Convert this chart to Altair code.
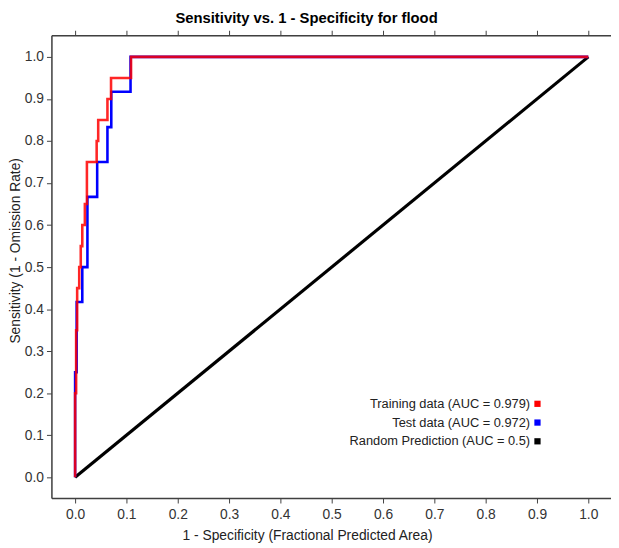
import altair as alt
import pandas as pd

# ---- data ----
series_names = [
    "Training data (AUC = 0.979)",
    "Test data (AUC = 0.972)",
    "Random Prediction (AUC = 0.5)",
]
series_colors = ["#ff0000", "#0000ff", "#000000"]

train_x = [0.0, 0.0, 0.002, 0.002, 0.004, 0.004, 0.008, 0.008, 0.011, 0.011,
           0.014, 0.014, 0.019, 0.019, 0.023, 0.023, 0.042, 0.042, 0.045, 0.045,
           0.063, 0.063, 0.070, 0.070, 0.109, 0.109, 1.0]
train_y = [0.0, 0.2, 0.2, 0.35, 0.35, 0.45, 0.45, 0.5, 0.5, 0.55,
           0.55, 0.6, 0.6, 0.65, 0.65, 0.75, 0.75, 0.8, 0.8, 0.85,
           0.85, 0.9, 0.9, 0.95, 0.95, 1.0, 1.0]

test_x = [0.0, 0.0, 0.003, 0.003, 0.014, 0.014, 0.024, 0.024, 0.043, 0.043,
          0.063, 0.063, 0.0705, 0.0705, 0.108, 0.108, 1.0]
test_y = [0.0, 0.25, 0.25, 0.417, 0.417, 0.5, 0.5, 0.667, 0.667, 0.75,
          0.75, 0.833, 0.833, 0.917, 0.917, 1.0, 1.0]

random_x = [0.0, 1.0]
random_y = [0.0, 1.0]

tick_values = [0.0, 0.1, 0.2, 0.3, 0.4, 0.5, 0.6, 0.7, 0.8, 0.9, 1.0]

title_text = "Sensitivity vs. 1 - Specificity for flood"
x_title = "1 - Specificity  (Fractional Predicted Area)"
y_title = "Sensitivity (1 - Omission Rate)"


def frame(xs, ys, name):
    return pd.DataFrame({"x": xs, "y": ys, "series": name, "i": range(len(xs))})


df_train = frame(train_x, train_y, series_names[0])
df_test = frame(test_x, test_y, series_names[1])
df_rand = frame(random_x, random_y, series_names[2])

FONT = "Liberation Sans"

x_scale = alt.Scale(domain=[-0.04615, 1.04423], nice=False, zero=False)
y_scale = alt.Scale(domain=[-0.0493, 1.0516], nice=False, zero=False)

color = alt.Color(
    "series:N",
    scale=alt.Scale(domain=series_names, range=series_colors),
    legend=alt.Legend(
        title=None,
        orient="none",
        legendX=486,
        legendY=367,
        direction="vertical",
        symbolType="square",
        symbolSize=40,
        symbolStrokeWidth=0,
        symbolOpacity=1,
        symbolFillColor={"expr": "scale('color', datum.value)"},
        labelAlign="right",
        labelOffset={"expr": "-14"},
        labelFont=FONT,
        labelFontSize=13,
        labelColor="#222222",
        labelLimit=0,
        rowPadding=5,
        padding=0,
    ),
)

axis_common = dict(
    grid=False,
    domainColor="#404040", domainWidth=1.5,
    tickColor="#404040", tickSize=5, tickWidth=1,
    labelFont=FONT, labelFontSize=14, labelColor="#333333",
)

y_axis = alt.Axis(
    values=tick_values, format=".1f", title=y_title,
    titleX=-36, titleY=218, titleAngle=270, titleAlign="center",
    titleBaseline="middle", titleFont=FONT, titleFontSize=14,
    titleFontWeight="normal", titleColor="#222222",
    labelPadding=3, **axis_common,
)

x_axis_bottom = alt.Axis(
    values=tick_values, format=".1f", title=x_title,
    orient="bottom", titleX=259, titleY=42, titleAlign="center",
    titleBaseline="alphabetic", titleFont=FONT, titleFontSize=14,
    titleFontWeight="normal", titleColor="#222222",
    labelPadding=5, **axis_common,
)

x_axis_top = alt.Axis(
    values=tick_values, orient="top", labels=False, title=None, **axis_common,
)

rand_layer = alt.Chart(df_rand).mark_line(strokeWidth=3.2, clip=True).encode(
    x=alt.X("x:Q", scale=x_scale, axis=x_axis_top),
    y=alt.Y("y:Q", scale=y_scale, axis=y_axis),
    order="i:Q",
    color=color,
)

test_layer = alt.Chart(df_test).mark_line(strokeWidth=2.6, clip=True).encode(
    x=alt.X("x:Q", scale=x_scale, axis=x_axis_bottom),
    y=alt.Y("y:Q", scale=y_scale, axis=y_axis),
    order="i:Q",
    color=color,
)

train_layer = alt.Chart(df_train).mark_line(strokeWidth=2.6, opacity=0.85, clip=True).encode(
    x=alt.X("x:Q", scale=x_scale, axis=None),
    y=alt.Y("y:Q", scale=y_scale, axis=y_axis),
    order="i:Q",
    color=color,
)

chart = (
    alt.layer(rand_layer, test_layer, train_layer)
    .resolve_axis(x="independent")
    .properties(
        width=567,
        height=469,
        autosize=alt.AutoSizeParams(type="none"),
        padding={"left": 44, "top": 24, "right": 0, "bottom": 44},
        title=alt.Title(
            title_text, font=FONT, fontSize=15, fontWeight="bold",
            color="#000000", anchor="middle", dx=-25, offset=4,
        ),
    )
    .configure_view(stroke=None)
    .configure(background="white")
)

chart.save("out.html", embed_options={"renderer": "svg", "actions": False})
